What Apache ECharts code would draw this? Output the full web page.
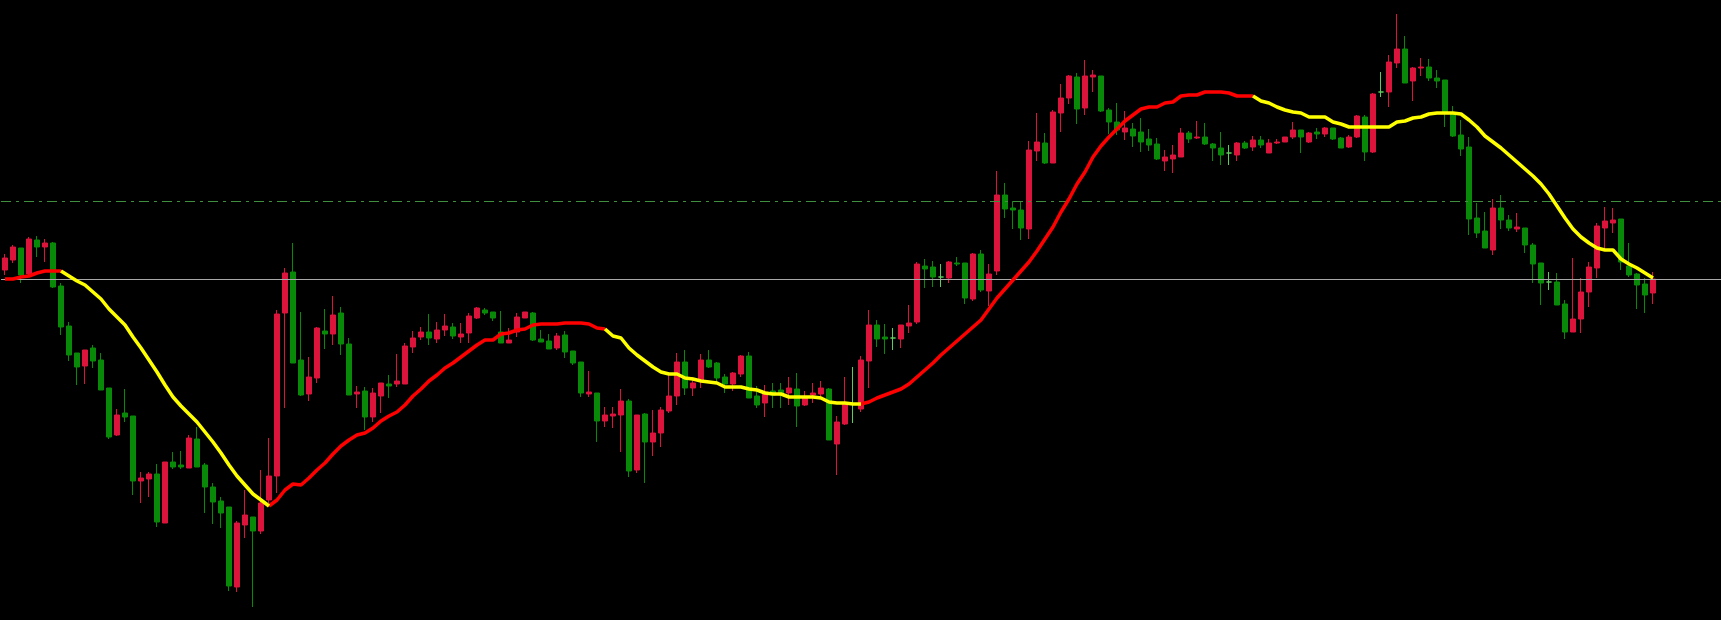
<!DOCTYPE html>
<html>
<head>
<meta charset="utf-8">
<style>
html,body{margin:0;padding:0;background:#000;}
#chart{width:1721px;height:620px;}
</style>
<script src="https://cdn.jsdelivr.net/npm/echarts/dist/echarts.min.js"></script>
</head>
<body>
<div id="chart"></div>
<script>
const opens = [350,360,372,346,380,373,377,334,294,267,
254,272,260,232,185,207,204,139,141,146,
97,158,155,152,181,155,133,119,113,33,
95,103,89,120,144,307,348,260,226,242,
289,286,307,276,226,229,203,224,236,236,
236,273,283,288,281,290,293,283,287,302,
310,308,288,277,288,302,307,281,279,272,
285,269,258,226,227,199,204,205,219,150,
206,178,187,209,224,258,232,240,260,257,
243,236,246,264,224,217,229,230,227,231,
215,225,226,231,176,196,216,211,259,295,
283,282,281,294,298,354,353,343,342,357,
357,321,366,329,349,425,412,410,391,469,
477,457,507,522,543,512,543,544,510,498,
488,491,488,481,476,459,461,463,487,482,
483,476,472,467,465,477,473,480,467,477,
478,483,490,478,488,486,492,482,473,483,
503,468,528,528,557,571,539,552,553,542,
540,507,485,473,402,389,370,412,400,391,
392,375,357,338,338,316,288,301,328,352,
392,397,401,354,346,336,327];

const closes = [362,373,345,381,373,377,333,293,265,253,
270,259,230,183,205,203,139,142,146,98,
158,153,153,182,153,133,118,107,34,97,
105,89,117,144,306,347,257,225,243,292,
286,305,276,225,228,203,227,237,234,239,
274,282,288,282,290,294,284,286,304,312,
307,302,277,280,303,308,280,278,271,284,
268,257,227,228,199,205,206,219,149,205,
178,187,210,224,258,232,237,260,253,242,
236,247,264,222,215,228,225,225,232,214,
222,227,232,180,198,217,216,260,295,281,
281,282,295,297,356,351,343,343,358,356,
322,366,330,346,425,411,410,392,470,478,
457,508,522,544,511,544,545,509,498,490,
492,484,478,475,461,463,465,487,481,483,
476,472,465,467,477,472,480,475,477,478,
483,490,483,487,486,492,481,472,483,504,
468,526,528,558,571,537,552,553,542,539,
507,484,471,401,387,372,412,400,392,393,
375,356,337,338,315,288,301,328,353,394,
399,400,358,345,335,325,341];

const highs = [366,375,372,383,384,381,378,337,298,267,
270,275,267,232,211,231,204,148,148,156,
158,168,169,185,193,157,137,123,113,99,
130,103,150,182,310,352,377,308,263,293,
311,324,313,282,234,233,232,237,245,266,
277,289,293,306,298,306,297,297,307,313,
312,308,309,292,307,308,308,290,286,287,
289,269,258,249,227,213,213,231,221,205,
207,210,213,245,267,270,243,266,270,258,
246,248,265,268,234,235,237,237,243,247,
229,237,239,232,204,243,253,264,310,300,
296,292,295,315,358,361,359,356,359,363,
357,367,370,356,449,437,419,419,479,507,
487,510,536,545,547,560,550,544,512,517,
509,497,502,491,482,470,475,492,489,499,
497,477,488,475,478,479,484,484,481,481,
483,498,490,488,492,493,492,483,485,505,
505,527,548,565,606,584,553,562,561,550,
540,514,500,483,417,408,421,425,405,407,
392,377,357,348,347,320,362,342,358,397,
413,412,401,377,347,342,348];

const lows = [345,357,337,344,363,358,332,285,259,235,
236,252,230,181,184,198,125,117,123,93,
97,151,151,152,153,107,96,92,29,28,
82,13,86,117,127,212,257,224,219,237,
271,275,265,225,212,190,198,207,222,233,
236,267,280,275,277,284,281,277,277,301,
305,299,277,277,283,302,279,278,271,270,
262,255,223,223,178,193,192,168,143,147,
137,164,173,207,215,225,224,232,252,238,
227,229,243,222,212,203,212,212,215,193,
214,217,223,180,145,195,197,208,232,273,
266,270,272,287,296,332,333,333,337,354,
316,319,328,314,345,402,391,380,381,459,
456,457,488,516,496,505,528,508,486,485,
480,473,468,469,460,449,447,463,477,481,
475,459,455,455,459,471,469,472,467,476,
478,481,467,477,481,483,480,472,472,482,
459,467,523,513,552,537,519,544,539,532,
493,483,464,385,382,372,365,391,389,388,
367,337,315,330,315,281,288,287,313,342,
370,387,350,343,311,307,316];

const maValues = [341,341,343,344,347,349,349,349,344,339,
335,328,321,311,303,295,283,272,260,248,
235,223,214,206,198,188,178,167,155,144,
135,126,120,114,120,130,136,135,142,150,
157,166,174,180,185,187,192,199,204,208,
215,224,231,239,245,252,257,263,269,275,
280,280,286,287,290,291,295,296,296,296,
297,297,297,296,292,291,284,282,272,265,
259,253,248,246,246,242,241,239,238,237,
233,233,233,231,230,227,226,226,223,223,
223,223,222,218,217,217,216,216,218,222,
225,228,231,236,243,250,257,265,272,279,
286,293,300,311,322,331,340,349,358,369,
381,393,408,421,436,448,463,474,483,491,
499,505,511,513,513,517,518,524,525,525,
528,528,528,527,524,524,524,519,517,513,
510,508,507,503,503,503,498,496,493,493,
493,493,493,493,498,499,502,503,506,507,
507,507,506,500,493,484,478,472,465,458,
451,444,436,426,414,402,391,383,377,372,
370,370,361,356,352,347,342];

// index where the MA colour changes (rising = red, falling = yellow)
const maBreaks = [0, 7, 33, 75, 107, 156, 206];
const maSegmentColor = ['up','down','up','down','up','down'];

const levelSolid = 341;
const levelDashDot = 419;

const emptySlots = 8;
const categories = opens.map((_, i) => 'B' + (i + 1)).concat(Array(emptySlots).fill(''));

const candleData = opens.map((o, i) => [o, closes[i], lows[i], highs[i]]);
const maUp = maValues.map(() => null);
const maDown = maValues.map(() => null);
for (let s = 0; s < maBreaks.length - 1; s++) {
  const target = maSegmentColor[s] === 'up' ? maUp : maDown;
  for (let i = maBreaks[s]; i <= maBreaks[s + 1]; i++) target[i] = maValues[i];
}

const chart = echarts.init(document.getElementById('chart'));
chart.setOption({
  backgroundColor: '#000000',
  animation: false,
  grid: { left: 1, right: 0, top: 0, bottom: 0 },
  xAxis: {
    type: 'category', data: categories, boundaryGap: true,
    axisLine: { show: false }, axisTick: { show: false }, axisLabel: { show: false }, splitLine: { show: false }
  },
  yAxis: {
    type: 'value', min: 0, max: 620,
    axisLine: { show: false }, axisTick: { show: false }, axisLabel: { show: false }, splitLine: { show: false }
  },
  series: [
    {
      type: 'candlestick',
      data: candleData,
      barWidth: 5,
      z: 2,
      itemStyle: {
        color: '#dc143c', color0: '#088a08',
        borderColor: '#dc143c', borderColor0: '#088a08',
        borderColorDoji: '#5ccc5c',
        borderWidth: 1
      },
      markLine: {
        silent: true, symbol: ['none', 'none'], label: { show: false },
        animation: false,
        data: [
          { yAxis: levelSolid, lineStyle: { color: '#a8a8a8', type: 'solid', width: 1 } },
          { yAxis: levelDashDot, lineStyle: { color: '#3f8f3f', type: [10, 5, 3, 5], width: 1 } }
        ]
      }
    },
    {
      type: 'line', data: maUp, symbol: 'none', z: 5, connectNulls: false,
      lineStyle: { color: '#ff0000', width: 3.5 }
    },
    {
      type: 'line', data: maDown, symbol: 'none', z: 5, connectNulls: false,
      lineStyle: { color: '#ffff00', width: 3.5 }
    }
  ]
});
</script>
</body>
</html>
